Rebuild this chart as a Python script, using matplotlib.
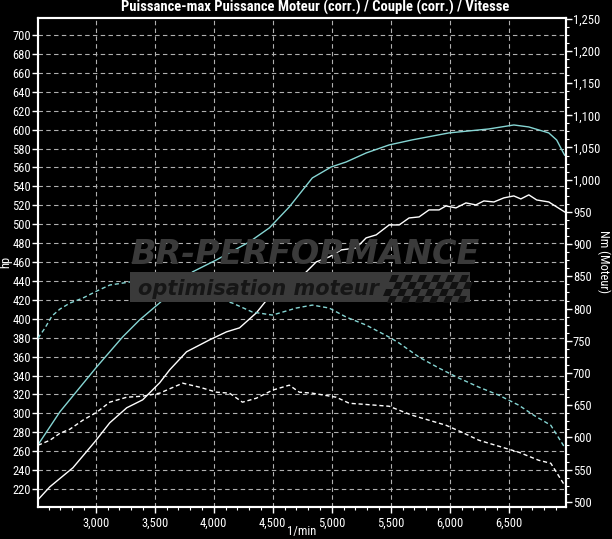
import matplotlib
matplotlib.use("Agg")
import matplotlib.pyplot as plt
from matplotlib.patches import Rectangle, Polygon
from matplotlib.ticker import MultipleLocator
from matplotlib import font_manager as fm

# ---- data ----
power_max_rpm = [2510, 2696, 3008, 3228, 3372, 3541, 3820, 4023, 4302, 4471, 4640, 4835,
                 4995, 5122, 5291, 5486, 5680, 5993, 6331, 6543, 6670, 6839, 6906, 6973]
power_max_hp = [266.8, 301.7, 349.2, 380.9, 398.9, 416.8, 449.6, 462.3, 481.3, 496.1, 518.3, 548.9,
                560.5, 565.8, 575.3, 583.8, 589.1, 596.5, 600.7, 604.9, 602.8, 596.5, 589.0, 573.0]

power_rpm = [2510, 2611, 2806, 2992, 3118, 3262, 3397, 3541, 3626, 3769, 3964, 4108, 4218, 4361,
             4497, 4623, 4750, 4869, 4978, 5080, 5207, 5291, 5376, 5486, 5571, 5655, 5740, 5824,
             5909, 5968, 6052, 6137, 6221, 6289, 6374, 6458, 6543, 6602, 6670, 6737, 6839, 6973]
power_hp = [208.7, 222.4, 242.5, 270.0, 290.0, 305.9, 314.3, 332.3, 346.0, 365.1, 377.7, 386.2, 390.4, 406.3,
            427.4, 444.3, 445.4, 460.2, 465.4, 472.8, 474.9, 485.5, 488.7, 499.2, 499.2, 506.6, 507.7, 515.1,
            515.1, 519.3, 517.2, 522.5, 520.4, 524.6, 523.5, 527.8, 529.9, 526.7, 531.0, 525.6, 523.5, 513.0]

torque_a_rpm = [2510, 2569, 2628, 2696, 2780, 2890, 3008, 3118, 3287, 3482, 3668, 3837, 3989, 4158,
                4327, 4497, 4699, 4835, 4978, 5122, 5291, 5486, 5571, 5740, 5909, 6078, 6247, 6416,
                6585, 6712, 6856, 6973]
torque_a_nm = [754.1, 769.7, 788.4, 799.2, 808.5, 816.3, 827.2, 836.5, 841.2, 842.7, 836.5, 828.8, 817.9, 808.5,
               794.6, 789.9, 800.8, 805.4, 800.8, 786.8, 774.4, 755.7, 746.4, 724.6, 707.5, 692.0, 678.0, 665.5,
               650.0, 634.4, 618.9, 584.7]

torque_b_rpm = [2510, 2611, 2696, 2780, 2890, 3008, 3118, 3262, 3397, 3541, 3736, 3879, 4023, 4133,
                4243, 4361, 4497, 4640, 4725, 4835, 5038, 5148, 5257, 5486, 5571, 5680, 5824, 5968,
                6103, 6247, 6416, 6585, 6754, 6856, 6973]
torque_b_nm = [587.8, 595.6, 606.5, 612.7, 626.7, 639.1, 654.7, 662.4, 664.0, 668.7, 684.2, 678.0, 670.2, 668.7,
               654.7, 660.9, 673.3, 681.1, 670.2, 668.7, 662.4, 653.0, 651.6, 648.4, 642.2, 634.5, 626.7, 618.9,
               608.0, 595.6, 586.3, 577.0, 564.5, 559.9, 525.7]

hp_ticks = list(range(220, 701, 20))
nm_ticks = list(range(500, 1251, 50))
rpm_ticks = list(range(3000, 6501, 500))

title = "Puissance-max Puissance Moteur (corr.) / Couple (corr.) / Vitesse"

# ---- font choice: a narrow sans if available ----
names = {f.name for f in fm.fontManager.ttflist}
narrow = None
for cand in ['Liberation Sans Narrow', 'Arial Narrow', 'Roboto Condensed', 'Open Sans Condensed',
             'DejaVu Sans Condensed']:
    if cand in names:
        narrow = cand
        break
stretch = 'normal'
if narrow is None:
    dv_cond = [f for f in fm.fontManager.ttflist
               if f.name == 'DejaVu Sans' and str(f.stretch) in ('condensed', 'semi-condensed', '375', '400')]
    if dv_cond:
        narrow = 'DejaVu Sans'
        stretch = 'condensed'
    else:
        narrow = 'Liberation Sans'
plt.rcParams['font.family'] = [narrow, 'DejaVu Sans']
plt.rcParams['font.stretch'] = stretch
base = 9.0 if narrow != 'Liberation Sans' else 8.5

# ---- figure ----
W, H = 612, 539
fig = plt.figure(figsize=(W / 100, H / 100), dpi=100, facecolor='black')
L, R, T, B = 38, 566, 18, 507
ax = fig.add_axes([L / W, 1 - B / H, (R - L) / W, (B - T) / H])
ax.set_facecolor('black')
ax2 = ax.twinx()

cyan = '#86d6d4'
grid_c = '#b0b0b0'

ax.set_xlim(2510, 6985)
ax.set_ylim(201, 718)
ax2.set_ylim(492, 1251)

# grid
for v in hp_ticks:
    ax.axhline(v, color=grid_c, lw=0.8, ls=(0, (4, 3)), zorder=1)
for v in rpm_ticks:
    ax.axvline(v, color=grid_c, lw=0.8, ls=(0, (4, 3)), zorder=1)

# watermark (figure pixel coords)
def fx(px):
    return px / W
def fy(py):
    return 1 - py / H

fig.patches.append(Rectangle((fx(130), fy(302)), (470 - 130) / W, (302 - 272) / H,
                             transform=fig.transFigure, facecolor='#3a3a3a', edgecolor='none',
                             zorder=0.5, figure=fig))
sq = 7
for i in range(12):
    for j in range(4):
        if (i + j) % 2 == 0:
            x0 = 392 + i * sq - j * 3
            y0 = 275 + j * sq
            fig.patches.append(Polygon([(fx(x0), fy(y0)), (fx(x0 + sq), fy(y0)),
                                        (fx(x0 + sq - 3), fy(y0 + sq)), (fx(x0 - 3), fy(y0 + sq))],
                                       closed=True, transform=fig.transFigure,
                                       facecolor='#111111', edgecolor='none', figure=fig))
fig.text(fx(305), fy(254), "BR-PERFORMANCE", color='#3a3a3a', fontsize=24,
         fontweight='heavy', fontstyle='italic', family=['DejaVu Sans'], fontstretch='normal',
         ha='center', va='center', zorder=0.5)
fig.text(fx(258), fy(289), "optimisation moteur", color='#161616', fontsize=15,
         fontweight='bold', fontstyle='italic', family=['DejaVu Sans'], fontstretch='normal',
         ha='center', va='center', zorder=0.6)

# curves
ax.plot(power_max_rpm, power_max_hp, color=cyan, lw=1.0, zorder=3)
ax.plot(power_rpm, power_hp, color='white', lw=1.0, zorder=3)
ax2.plot(torque_a_rpm, torque_a_nm, color=cyan, lw=1.0, ls=(0, (3, 2)), zorder=3)
ax2.plot(torque_b_rpm, torque_b_nm, color='white', lw=1.0, ls=(0, (3, 2)), zorder=3)
ax2.patch.set_visible(False)

# ticks
ax.set_xticks(rpm_ticks)
ax.set_xticklabels([f"{v:,}" for v in rpm_ticks])
ax.xaxis.set_minor_locator(MultipleLocator(100))
ax.set_yticks(hp_ticks)
ax.set_yticklabels([str(v) for v in hp_ticks])
ax2.set_yticks(nm_ticks)
ax2.set_yticklabels([f"{v:,}" for v in nm_ticks])
ax2.yaxis.set_minor_locator(MultipleLocator(12.5))

for a in (ax, ax2):
    a.tick_params(colors='white', labelcolor='white', labelsize=base, width=1, length=4, pad=1)
    a.tick_params(which='minor', colors='white', length=2, width=0.8)
    for s in a.spines.values():
        s.set_color('white')
        s.set_linewidth(1.5)
ax.tick_params(axis='x', pad=3)

fig.text(fx(302), fy(531), "1/min", color='white', fontsize=base, ha='center', va='center')
fig.text(fx(6), fy(262), "hp", color='white', fontsize=base, rotation=90, ha='center', va='center')
fig.text(fx(604), fy(262), "Nm (Moteur)", color='white', fontsize=base, rotation=-90,
         ha='center', va='center')
fig.text(fx(315), fy(7), title, color='white', fontsize=base + 1.5, fontweight='bold',
         ha='center', va='center')

fig.savefig("out.png", dpi=100, facecolor='black')
